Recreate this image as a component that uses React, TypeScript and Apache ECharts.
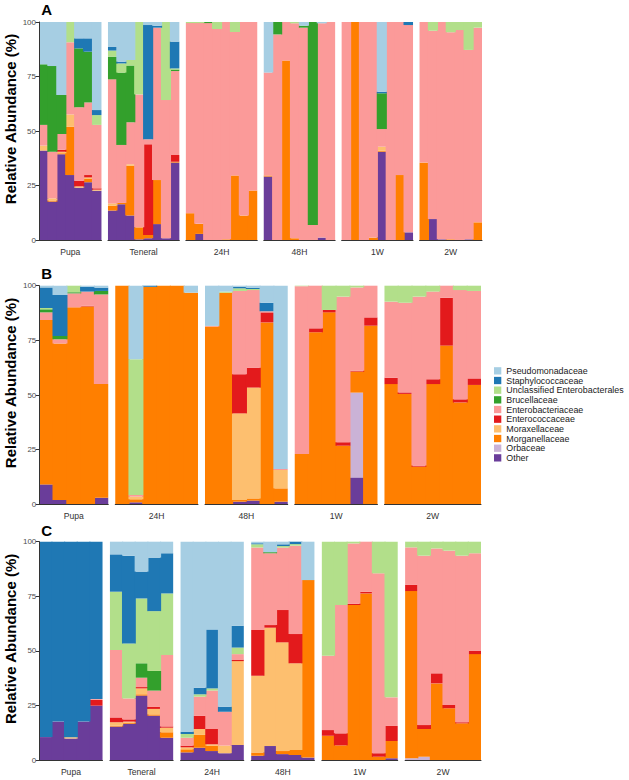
import React, { useEffect, useRef } from "react";
import * as echarts from "echarts";

// Families, legend order (top of legend first; top of stack first)
const FAMILIES = [
  "Pseudomonadaceae",
  "Staphylococcaceae",
  "Unclassified Enterobacterales",
  "Brucellaceae",
  "Enterobacteriaceae",
  "Enterococcaceae",
  "Moraxellaceae",
  "Morganellaceae",
  "Orbaceae",
  "Other",
];
const FAMILY_COLORS = [
  "#A6CEE3", "#1F78B4", "#B2DF8A", "#33A02C", "#FB9A99",
  "#E31A1C", "#FDBF6F", "#FF7F00", "#CAB2D6", "#6A3D9A",
];

// ---------------- Panel A ----------------
const A_FACETS = ["Pupa", "Teneral", "24H", "48H", "1W", "2W"];
const A_SIZES = [7, 8, 8, 8, 8, 7];
const A_PSEUDO = [
  19.4, 20.2, 33.5, 0, 7.5, 7.5, 40.4,
  11.3, 18.2, 17.4, 0, 1.4, 1.7, 0, 9,
  0, 0, 0, 0, 0, 0, 0, 0,
  23.2, 0, 0, 0, 1.7, 0, 0.6, 0,
  0, 0, 0, 0, 32, 0, 0, 0,
  0, 0, 0, 0, 0, 0, 0,
];
const A_STAPH = [
  0, 0, 0, 0, 4.6, 6.1, 2.3,
  1.8, 0.8, 0, 0, 52.4, 0.9, 0, 12.3,
  0, 0, 0, 0, 0, 0, 0, 0,
  0, 0, 0, 0, 0, 0, 0, 0,
  0, 0, 0, 0, 0.7, 0, 0, 1.4,
  0, 0, 0, 0, 0, 0, 0,
];
const A_UNCL = [
  0, 0, 0, 9.3, 0, 0, 4.5,
  2.8, 4.2, 2.6, 33.2, 0, 0, 35.8, 0.5,
  0.5, 0.5, 0, 3.2, 0, 4.6, 0, 0,
  0, 0, 0, 0.6, 0, 0, 0, 0,
  0, 0, 0, 0, 0, 0, 0, 0,
  0, 4, 0, 4.7, 3.7, 12.8, 2.6,
];
const A_BRUC = [
  27.8, 39.3, 17.9, 0, 27, 23.3, 0,
  10.4, 33.2, 26, 0, 0, 0, 0, 0.7,
  0, 0, 0.5, 0, 0, 0, 0, 0,
  0, 5.7, 0, 0, 0.9, 93.1, 0, 0,
  0, 0, 0, 0, 16.4, 0, 0, 0,
  0, 0, 0, 0, 0, 0, 0,
];
const A_ENTERO = [
  9.5, 21.4, 7.2, 33.1, 33.8, 33.3, 29.1,
  56.9, 26.6, 19.3, 61, 2.3, 69.9, 63.4, 38.5,
  87.2, 92.1, 99.5, 96.8, 99.7, 65.8, 88.8, 77.3,
  47.2, 94.3, 17.7, 98.6, 97.4, 6.9, 98.3, 100,
  100, 0, 100, 98.9, 8.1, 100, 70.2, 95.1,
  64.5, 86.4, 99.7, 95, 96.3, 86.9, 89.3,
];
const A_ENTEROCOC = [
  0, 0, 0.9, 0, 2.5, 1.1, 0.6,
  0, 0, 0, 0, 41.6, 0, 0, 3.1,
  0, 0, 0, 0, 0, 0, 0, 0,
  0, 0, 0, 0, 0, 0, 0, 0,
  0, 0, 0, 0, 0, 0, 0, 0,
  0, 0, 0, 0, 0, 0, 0,
];
const A_MORAX = [
  2.3, 1, 0.7, 5.6, 0.6, 0.7, 0.5,
  1.1, 0, 0.6, 0, 0, 0, 0, 0,
  0, 0, 0, 0, 0, 0, 0, 0,
  0, 0, 0, 0, 0, 0, 0, 0,
  0, 0, 0, 0, 1.8, 0, 0, 0,
  0, 0, 0, 0, 0, 0, 0,
];
const A_MORGAN = [
  0, 0.5, 0.5, 22.2, 0, 1.5, 0,
  2.2, 0.6, 22.9, 5.5, 1.5, 20.2, 0, 0.4,
  12.3, 4.6, 0, 0, 0.3, 29.6, 11.2, 22.7,
  0.5, 0, 82.3, 0.8, 0, 0, 0, 0,
  0, 100, 0, 1.1, 0.5, 0, 29.8, 0,
  35.5, 0, 0, 0.3, 0, 0, 8.1,
];
const A_ORB = [
  0, 0, 0, 0, 0, 0, 0,
  0, 0, 0, 0, 0, 0, 0, 0,
  0, 0, 0, 0, 0, 0, 0, 0,
  0, 0, 0, 0, 0, 0, 0, 0,
  0, 0, 0, 0, 0, 0, 0, 0,
  0, 0, 0, 0, 0, 0, 0,
];
const A_OTHER = [
  41, 17.6, 39.3, 29.8, 24, 26.5, 22.6,
  13.5, 16.4, 11.2, 0.3, 0.8, 7.3, 0.8, 35.5,
  0, 2.8, 0, 0, 0, 0, 0, 0,
  29.1, 0, 0, 0, 0, 0, 1.1, 0,
  0, 0, 0, 0, 40.5, 0, 0, 3.5,
  0, 9.6, 0.3, 0, 0, 0.3, 0,
];

// ---------------- Panel B ----------------
const B_FACETS = ["Pupa", "24H", "48H", "1W", "2W"];
const B_SIZES = [5, 6, 6, 6, 7];
const B_PSEUDO = [
  0.8, 4.3, 0, 0.5, 0.9,
  0, 33.7, 0, 0, 0, 3.2,
  18.4, 2.7, 0.5, 1, 7.8, 83.8,
  0, 0, 0, 0, 0, 0,
  0, 0, 0, 0, 0, 0, 0,
];
const B_STAPH = [
  9.4, 18.7, 0, 2.2, 1.5,
  0, 0, 0.5, 0, 0, 0,
  0, 0, 0.7, 0.5, 3.9, 0,
  0, 0, 0, 0, 0, 0,
  0, 0, 0, 0, 0, 0, 0,
];
const B_UNCL = [
  0.6, 0, 3, 0, 0,
  0, 62, 0, 0, 0, 0,
  0, 0.5, 1.2, 0.5, 0, 0,
  0.2, 0, 11.1, 5, 0.8, 0,
  7.3, 7.8, 5, 2.7, 0, 2, 2.4,
];
const B_BRUC = [
  1.4, 1.5, 0.5, 0, 1.6,
  0, 0, 0, 0, 0, 0,
  0, 0, 0, 0, 0, 0,
  0, 0, 0, 0, 0, 0,
  0, 0, 0, 0, 0, 0, 0,
];
const B_ENTERO = [
  3.5, 1.9, 6.4, 6.5, 41,
  0, 0.8, 0, 0, 0, 0,
  0.3, 0, 38.1, 35.5, 0.5, 0.5,
  76.8, 19.5, 0, 66.6, 38.1, 14.5,
  34.8, 41, 77.3, 40.1, 5.5, 50, 40,
];
const B_ENTEROCOC = [
  0, 0, 0, 0.3, 0,
  0, 0, 0, 0, 0, 0,
  0, 0, 17.9, 9.1, 4.6, 0,
  0, 1.8, 1.1, 1.6, 0.4, 3.8,
  2.9, 0.7, 0.5, 2.2, 21.9, 1.4, 3,
];
const B_MORAX = [
  0, 0, 0, 0, 0,
  0, 1.2, 0, 0, 0, 0,
  0, 0, 39.6, 50.7, 0, 8.4,
  0, 0, 0, 0, 0, 0,
  0, 0, 0, 0, 0, 0, 0,
];
const B_MORGAN = [
  75.2, 71.6, 90.1, 90.5, 52,
  100, 1.4, 99.5, 100, 100, 96.8,
  81.3, 96.8, 0.8, 1, 83.2, 6.1,
  23, 78.7, 87.8, 26.8, 9.6, 81.7,
  55, 50.5, 17.2, 55, 72.6, 46.6, 54.6,
];
const B_ORB = [
  0, 0, 0, 0, 0,
  0, 0, 0, 0, 0, 0,
  0, 0, 0, 0, 0, 0,
  0, 0, 0, 0, 38.8, 0,
  0, 0, 0, 0, 0, 0, 0,
];
const B_OTHER = [
  9.1, 2, 0, 0, 3,
  0, 0.9, 0, 0, 0, 0,
  0, 0, 1.2, 1.7, 0, 1.2,
  0, 0, 0, 0, 12.3, 0,
  0, 0, 0, 0, 0, 0, 0,
];

// ---------------- Panel C ----------------
const C_FACETS = ["Pupa", "Teneral", "24H", "48H", "1W", "2W"];
const C_SIZES = [5, 5, 5, 5, 6, 6];
const C_PSEUDO = [
  0, 0, 0, 0, 0,
  5.8, 6.4, 13.7, 7.3, 5.3,
  87, 66.9, 40.2, 75.6, 38.5,
  0.7, 4.8, 1.2, 0, 17.6,
  0, 0, 0, 0, 0, 0,
  0, 0, 0, 0, 0, 0,
];
const C_STAPH = [
  89.5, 82.4, 89.6, 82.4, 72.1,
  17.1, 40.2, 12.3, 24.5, 18.4,
  1.1, 3, 27, 2.3, 10,
  0.5, 0, 0.8, 1.1, 0,
  0, 0, 0, 0, 0, 0,
  0, 0, 0, 0, 0, 0,
];
const C_UNCL = [
  0, 0, 0, 0, 0,
  26.7, 25.2, 29.7, 27.4, 28.2,
  1.7, 1.1, 1, 0, 3,
  1.5, 0, 0.7, 0.7, 0,
  52.2, 29, 0.8, 0, 14.5, 71.3,
  2.6, 6.4, 3.1, 4.1, 6.4, 5.3,
];
const C_BRUC = [
  0, 0, 0, 0, 0,
  0, 0, 6.6, 9, 0,
  0, 0, 0, 0, 0,
  0, 0.5, 0, 0, 0,
  0, 0, 0, 0, 0, 0,
  0, 0, 0, 0, 0, 0,
];
const C_ENTERO = [
  0, 0, 0, 0, 0.4,
  30.9, 9.6, 4.3, 7.5, 32.7,
  3.6, 8.8, 17.6, 15.5, 2.5,
  37.8, 32.9, 28.6, 40.5, 0,
  34.1, 58.8, 27.6, 22.9, 82.4, 13.1,
  17.2, 77.6, 57.2, 70.7, 76.3, 44.6,
];
const C_ENTEROCOC = [
  0, 0, 0, 0, 2.6,
  2.2, 1, 0.6, 0.9, 0.6,
  0.8, 6, 7, 0, 0.7,
  20.9, 1.2, 14.8, 13.4, 0,
  2.6, 5.5, 0.6, 0.8, 1.6, 6.9,
  2.8, 1.8, 4.6, 1.5, 0.5, 1.6,
];
const C_MORAX = [
  0, 0, 0.6, 0, 0,
  1.6, 0.5, 2.7, 2.5, 2.1,
  0.9, 2.7, 0.6, 3.5, 38.4,
  35.2, 54.2, 49.8, 39.7, 0,
  0, 0, 0, 0, 0, 0,
  0, 0, 0, 0, 0, 0,
];
const C_MORGAN = [
  0, 0, 0, 0, 0,
  0.4, 0.5, 0.6, 0.6, 2.5,
  1.4, 5.9, 2.5, 0, 0,
  1.4, 0, 1.4, 2.3, 81.3,
  11.1, 6.7, 71, 76.3, 1.5, 7.9,
  76.6, 12.7, 35.1, 23.7, 16.8, 48.5,
];
const C_ORB = [
  0, 0, 0, 0, 0,
  0, 0, 0, 0, 0,
  0, 0, 0, 0, 0,
  0, 0, 0, 0, 0,
  0, 0, 0, 0, 0, 0,
  0.8, 1.5, 0, 0, 0, 0,
];
const C_OTHER = [
  10.5, 17.6, 9.8, 17.6, 24.9,
  15.3, 16.6, 29.5, 20.3, 10.2,
  3.5, 5.6, 4.1, 3.1, 6.9,
  2, 6.4, 2.7, 2.3, 1.1,
  0, 0, 0, 0, 0, 0.8,
  0, 0, 0, 0, 0, 0,
];

const Y_TICKS = [0, 25, 50, 75, 100];
const Y_TITLE = "Relative Abundance (%)";

const PANELS = [
  {
    letter: "A", facets: A_FACETS, sizes: A_SIZES,
    values: [A_PSEUDO, A_STAPH, A_UNCL, A_BRUC, A_ENTERO, A_ENTEROCOC, A_MORAX, A_MORGAN, A_ORB, A_OTHER],
  },
  {
    letter: "B", facets: B_FACETS, sizes: B_SIZES,
    values: [B_PSEUDO, B_STAPH, B_UNCL, B_BRUC, B_ENTERO, B_ENTEROCOC, B_MORAX, B_MORGAN, B_ORB, B_OTHER],
  },
  {
    letter: "C", facets: C_FACETS, sizes: C_SIZES,
    values: [C_PSEUDO, C_STAPH, C_UNCL, C_BRUC, C_ENTERO, C_ENTEROCOC, C_MORAX, C_MORGAN, C_ORB, C_OTHER],
  },
];

// layout (pixels)
const LAYOUT = [
  { left: 39, right: 482, top: 22, height: 218, gap: 6.5, letterTop: 1.5 },
  { left: 39.3, right: 481, top: 285.7, height: 218.6, gap: 7, letterTop: 265.8 },
  { left: 39.3, right: 481, top: 541.7, height: 218.3, gap: 7.4, letterTop: 522.5 },
];

const FONT = "'Liberation Sans', Arial, Helvetica, sans-serif";

export default function App() {
  const ref = useRef<HTMLDivElement>(null);

  useEffect(() => {
    if (!ref.current) return;
    const chart = echarts.init(ref.current, null, { renderer: "svg" });

    const grids: any[] = [];
    const xAxes: any[] = [];
    const yAxes: any[] = [];
    const series: any[] = [];
    const graphics: any[] = [];

    PANELS.forEach((panel, pi) => {
      const L = LAYOUT[pi];
      const n = panel.sizes.reduce((a, b) => a + b, 0);
      const k = panel.sizes.length;
      const bw = (L.right - L.left - L.gap * (k - 1)) / n;
      let x = L.left;
      let offset = 0;
      panel.facets.forEach((facet, fi) => {
        const size = panel.sizes[fi];
        const gi = grids.length;
        grids.push({ left: x, top: L.top, width: size * bw, height: L.height, containLabel: false });
        const labels = Array.from({ length: size }, (_, i) => `${panel.letter}-${facet}-${i + 1}`);
        xAxes.push({
          type: "category",
          gridIndex: gi,
          data: labels,
          axisLine: { show: true, onZero: false, lineStyle: { color: "#333333", width: 1 } },
          axisTick: { show: false },
          axisLabel: { show: false },
          splitLine: { show: false },
          splitArea: { show: false },
          name: facet,
          nameLocation: "middle",
          nameGap: 7,
          nameTextStyle: { fontSize: 8.6, color: "#333333", fontFamily: FONT, verticalAlign: "top" },
          z: 5,
        });
        const first = fi === 0;
        yAxes.push({
          type: "value",
          gridIndex: gi,
          min: Y_TICKS[0],
          max: Y_TICKS[Y_TICKS.length - 1],
          interval: 25,
          show: first,
          axisLine: { show: first, lineStyle: { color: "#333333", width: 1 } },
          axisTick: { show: first, length: 3.5, lineStyle: { color: "#333333", width: 1 } },
          axisLabel: { show: first, fontSize: 8, color: "#4D4D4D", margin: 3, fontFamily: FONT },
          splitLine: { show: false },
          z: 5,
        });
        for (let f = FAMILIES.length - 1; f >= 0; f--) {
          const color = FAMILY_COLORS[f];
          series.push({
            type: "bar",
            name: FAMILIES[f],
            stack: `p${pi}f${fi}`,
            xAxisIndex: gi,
            yAxisIndex: gi,
            barWidth: bw + 1.2,
            barGap: "0%",
            clip: true,
            silent: true,
            itemStyle: { color, borderWidth: 0 },
            emphasis: { disabled: true },
            data: panel.values[f].slice(offset, offset + size).map((v) => (v === 0 ? "-" : v)),
          });
        }
        offset += size;
        x += size * bw + L.gap;
      });

      graphics.push({
        type: "text",
        left: 41.3,
        top: L.letterTop,
        style: { text: panel.letter, fontSize: 15, fontWeight: "bold", fill: "#000000", fontFamily: FONT },
      });
      graphics.push({
        type: "text",
        x: 10.5,
        y: L.top + L.height / 2 - 12,
        rotation: Math.PI / 2,
        style: {
          text: Y_TITLE,
          fontSize: 15,
          fontWeight: "bold",
          fill: "#000000",
          fontFamily: FONT,
          align: "center",
          verticalAlign: "middle",
        },
      });
    });

    chart.setOption({
      animation: false,
      backgroundColor: "#ffffff",
      grid: grids,
      xAxis: xAxes,
      yAxis: yAxes,
      series,
      graphic: graphics,
      legend: {
        data: FAMILIES,
        orient: "vertical",
        left: 494,
        top: 366,
        padding: 0,
        itemGap: 0,
        itemWidth: 7.3,
        itemHeight: 7.3,
        icon: "rect",
        selectedMode: false,
        itemStyle: { borderWidth: 0 },
        textStyle: { fontSize: 8.9, color: "#1A1A1A", fontFamily: FONT, lineHeight: 9.67 },
      },
    });

    return () => chart.dispose();
  }, []);

  return (
    <div
      ref={ref}
      style={{ position: "absolute", left: 0, top: 0, width: 629, height: 780 }}
    />
  );
}
